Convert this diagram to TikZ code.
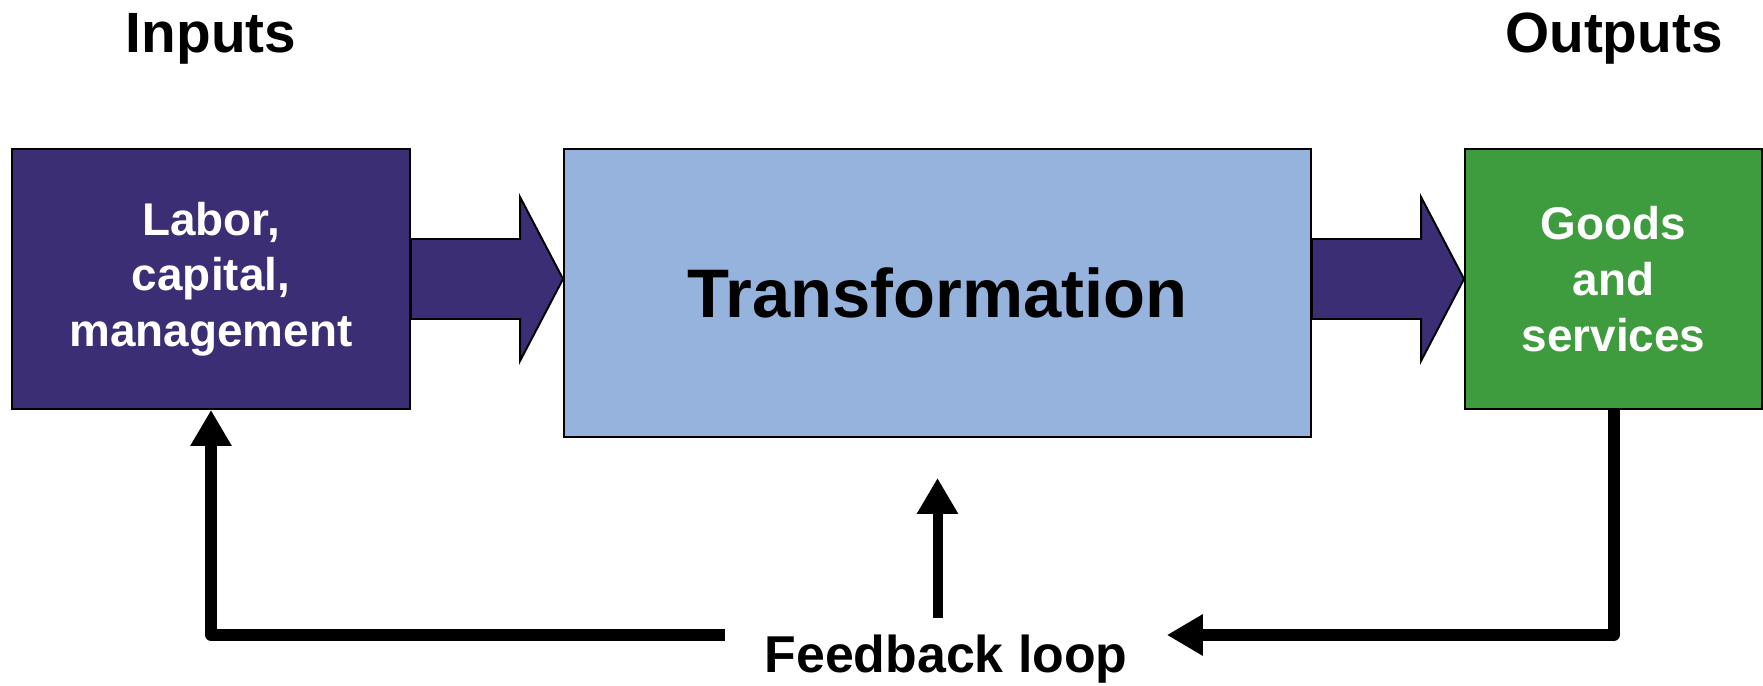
\documentclass[tikz,border=0pt]{standalone}
\usepackage{fontspec}
\setmainfont{Liberation Sans}
\usetikzlibrary{arrows.meta}
\definecolor{inpurple}{HTML}{3C2E75}
\definecolor{trblue}{HTML}{95B3DC}
\definecolor{outgreen}{HTML}{3E9B3E}

\begin{document}
\begin{tikzpicture}[
  box/.style={draw=black,line width=1.1pt,inner sep=0pt,align=center,font=\bfseries\fontsize{26.1}{31.7}\selectfont},
  fat/.style={fill=inpurple,draw=black,line width=1.1pt,line join=miter},
  fb/.style={line width=0.24cm,line join=round,-{Triangle[length=0.72cm,width=0.78cm]}},
  title/.style={font=\bfseries\fontsize{32.3}{38}\selectfont,anchor=base}]
\useasboundingbox (0,0) rectangle (35.26,13.72);
\node[title] (inputs) at (4.22,12.66) {Inputs};
\node[title] (outputs) at (32.28,12.66) {Outputs};
\node[box,fill=inpurple,text=white,minimum width=7.96cm,minimum height=5.2cm] (in) at (4.22,8.14) {Labor,\\capital,\\management};
\node[box,fill=trblue,minimum width=14.94cm,minimum height=5.76cm,font=\bfseries\fontsize{39.1}{46}\selectfont] (tr) at (18.75,7.86) {Transformation};
\node[box,fill=outgreen,text=white,minimum width=5.94cm,minimum height=5.2cm] (out) at (32.27,8.14) {Goods\\and\\services};
\coordinate (tip1) at (in.east -| tr.west);
\coordinate (tip2) at (out.west);
\coordinate (base2) at (tr.east |- out.west);
\draw[fat] ([yshift=0.8cm]in.east) -- ([xshift=-0.86cm,yshift=0.8cm]tip1) -- ++(0,0.84) -- (tip1) -- ++(-0.86,-1.64) -- ++(0,0.84) -- ([yshift=-0.8cm]in.east) -- cycle;
\draw[fat] ([yshift=0.8cm]base2) -- ([xshift=-0.86cm,yshift=0.8cm]tip2) -- ++(0,0.84) -- (tip2) -- ++(-0.86,-1.64) -- ++(0,0.84) -- ([yshift=-0.8cm]base2) -- cycle;
\node[font=\bfseries\fontsize{29.5}{35}\selectfont,anchor=north,inner xsep=0.78cm,inner ysep=0pt] (fbk) at (18.92,1.02) {Feedback loop};
\draw[fb] (out.south) |- (fbk.north east);
\draw[fb] (fbk.north west) -| (in.south);
\draw[fb,line width=0.2cm,shorten <=0.34cm,shorten >=0.8cm] (fbk.north -| tr.south) -- (tr.south);
\end{tikzpicture}
\end{document}
